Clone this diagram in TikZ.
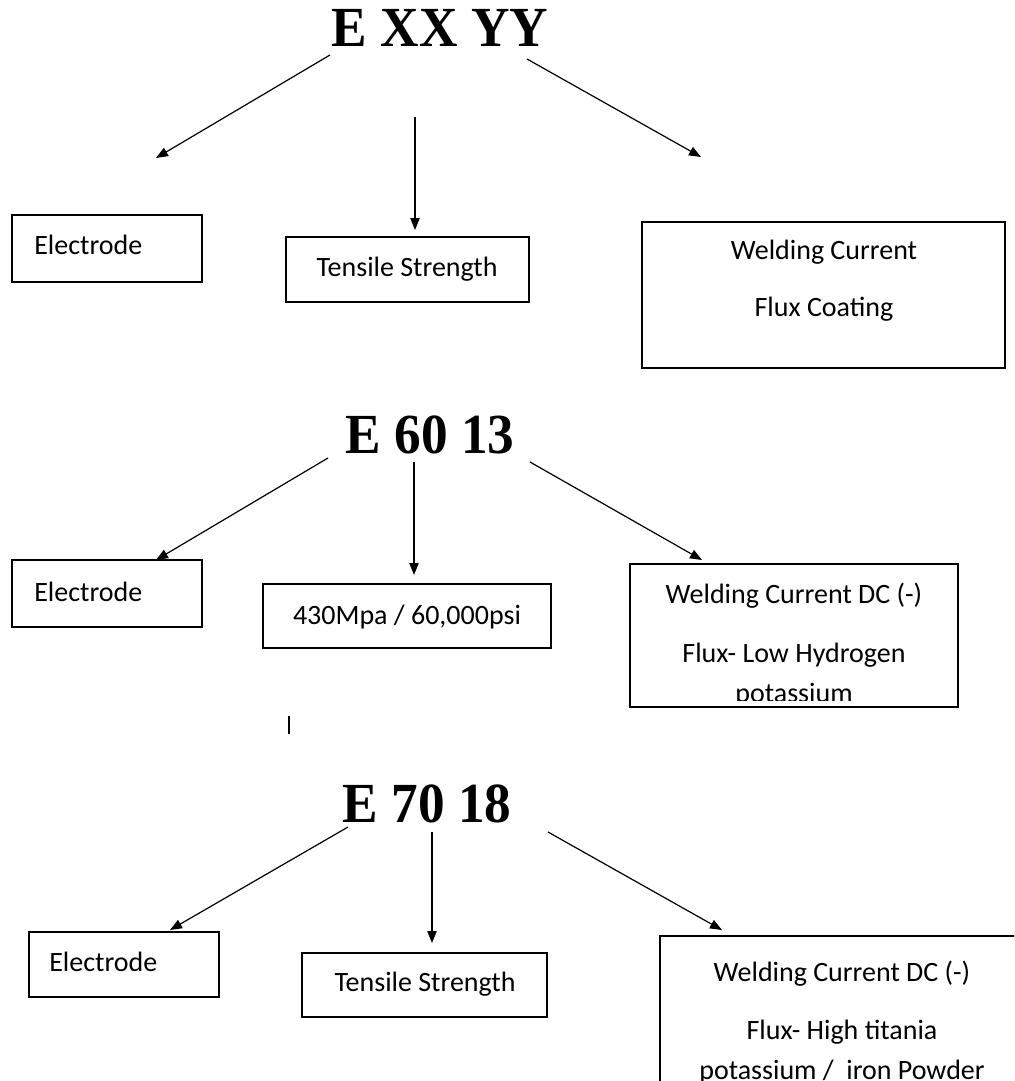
\documentclass[tikz,border=0pt]{standalone}
\usepackage{fontspec}
\setmainfont{Carlito}
\newfontfamily\titlefont{Liberation Serif}
\usetikzlibrary{arrows.meta,fit}
\tikzset{
  box/.style={draw=black, line width=1.1pt, inner sep=0pt, fill=none},
  lbl/.style={font=\fontsize{21}{25}\selectfont, inner sep=0pt, anchor=base},
  lbll/.style={font=\fontsize{21}{25}\selectfont, inner sep=0pt, anchor=base west},
  ttl/.style={font=\titlefont\bfseries\fontsize{42.5}{48}\selectfont, inner sep=0pt, anchor=base, xscale=0.94},
  conn/.style={draw=black, line width=0.9pt, -{Triangle[length=9pt,width=7pt]}},
}
\begin{document}
\begin{tikzpicture}[x=0.75pt,y=-0.75pt]
\useasboundingbox (0,0) rectangle (1014,1081);
\clip (0,0) rectangle (1014,1081);

% ---------- Row 1 ----------
\node[ttl] (t1) at (440,47) {E XX YY};
\coordinate (r1ls) at (330,55);  \coordinate (r1le) at (156,158);
\coordinate (r1ms) at (415,117); \coordinate (r1me) at (415,230);
\coordinate (r1rs) at (527,59);  \coordinate (r1re) at (701,157);
\draw[conn] (r1ls) -- (r1le);
\draw[conn] (r1ms) -- (r1me);
\draw[conn] (r1rs) -- (r1re);

\node[box, fit={(12,215) (202,282)}] (b1l) {};
\node[lbll] (l1l) at (34,254) {Electrode};
\node[box, fit={(286,237) (529,302)}] (b1m) {};
\node[lbl] (l1m) at (407,276) {Tensile Strength};
\node[box, fit={(642,222) (1005,368)}] (b1r) {};
\node[lbl] (l1r1) at (824,259) {Welding Current};
\node[lbl] (l1r2) at (824,316) {Flux Coating};

% ---------- Row 2 ----------
\node[ttl] (t2) at (430,453) {E 60 13};
\coordinate (r2ls) at (328,458); \coordinate (r2le) at (156,560);
\coordinate (r2ms) at (414,462); \coordinate (r2me) at (414,575);
\coordinate (r2rs) at (530,462); \coordinate (r2re) at (702,560);
\draw[conn] (r2ls) -- (r2le);
\draw[conn] (r2ms) -- (r2me);
\draw[conn] (r2rs) -- (r2re);

\node[box, fit={(12,560) (202,627)}] (b2l) {};
\node[lbll] (l2l) at (34,601) {Electrode};
\node[box, fit={(263,584) (551,648)}] (b2m) {};
\node[lbl] (l2m) at (407,624) {430Mpa / 60,000psi};
\node[box, fit={(630,564) (958,707)}] (b2r) {};
\node[lbl] (l2r1) at (794,603) {Welding Current DC (-)};
\node[lbl] (l2r2) at (794,662) {Flux- Low Hydrogen};
\begin{scope}
  \clip (631,565) rectangle (957,700);
  \node[lbl] (l2r3) at (794,702) {potassium};
\end{scope}

% stray mark
\coordinate (m1) at (289,716); \coordinate (m2) at (289,734);
\draw[line width=1.5pt] (m1) -- (m2);

% ---------- Row 3 ----------
\node[ttl] (t3) at (427,822) {E 70 18};
\coordinate (r3ls) at (348,827); \coordinate (r3le) at (170,930);
\coordinate (r3ms) at (432,832); \coordinate (r3me) at (432,943);
\coordinate (r3rs) at (548,832); \coordinate (r3re) at (722,930);
\draw[conn] (r3ls) -- (r3le);
\draw[conn] (r3ms) -- (r3me);
\draw[conn] (r3rs) -- (r3re);

\node[box, fit={(29,932) (219,997)}] (b3l) {};
\node[lbll] (l3l) at (49,971) {Electrode};
\node[box, fit={(302,953) (547,1017)}] (b3m) {};
\node[lbl] (l3m) at (425,991) {Tensile Strength};
\node[box, fit={(660,936) (1030,1100)}] (b3r) {};
\node[lbl] (l3r1) at (842,981) {Welding Current DC (-)};
\node[lbl] (l3r2) at (842,1039) {Flux- High titania};
\node[lbl] (l3r3) at (842,1079) {potassium /\ \ iron Powder};
\end{tikzpicture}
\end{document}
